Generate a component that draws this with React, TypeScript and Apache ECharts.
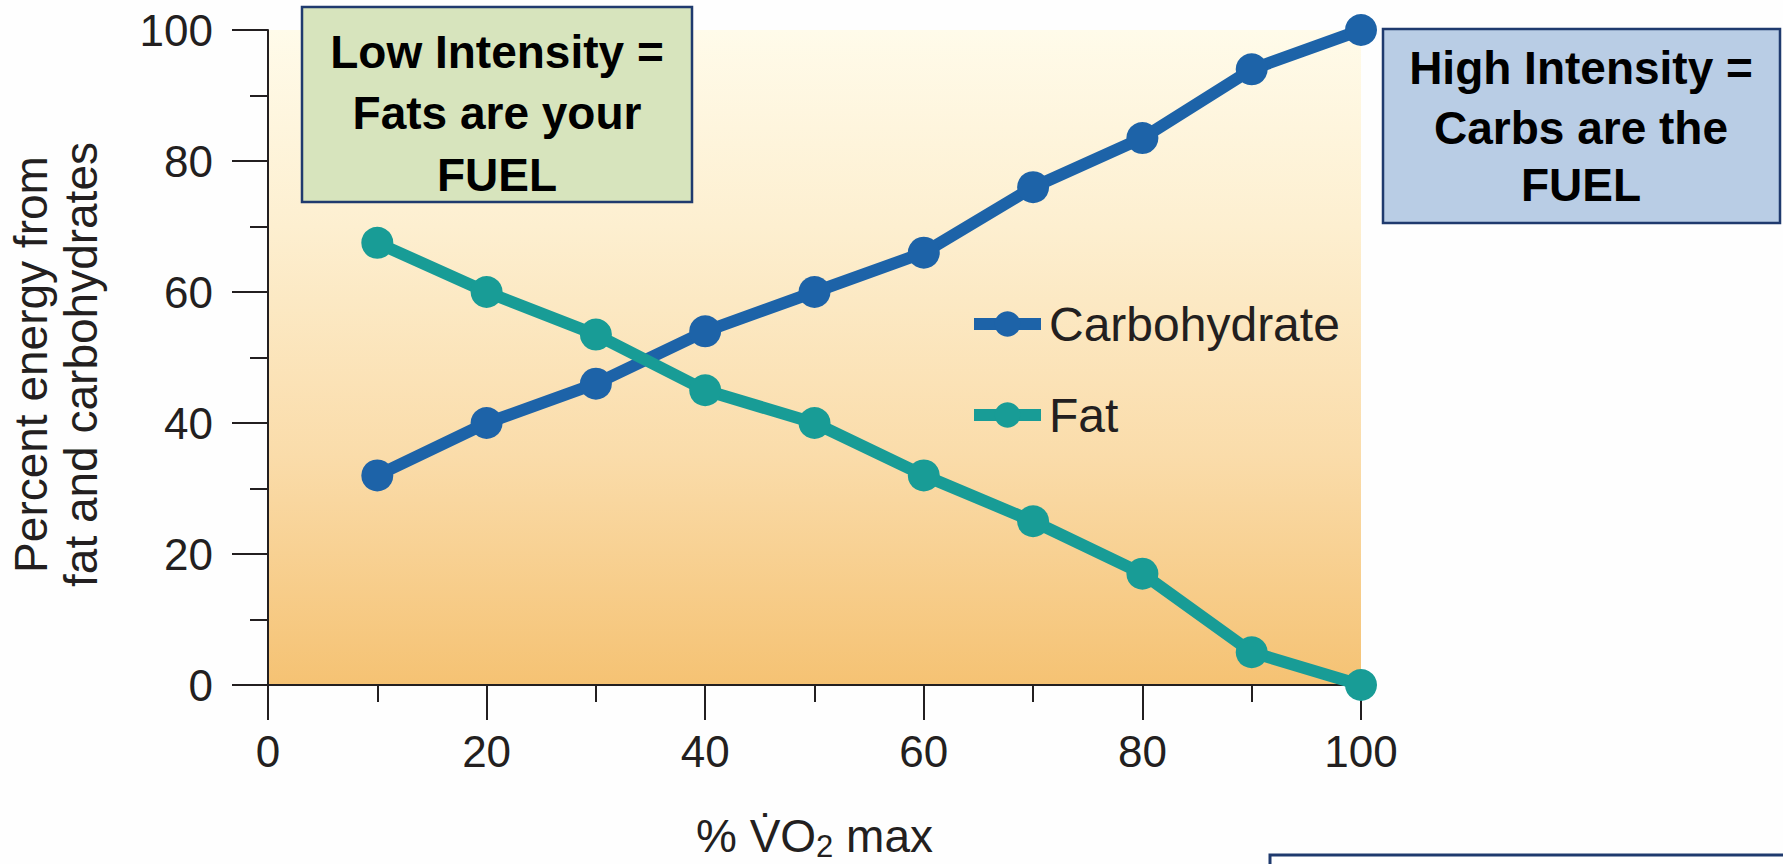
import React, { useEffect, useRef } from "react";
import * as echarts from "echarts";

const vo2Levels = [10, 20, 30, 40, 50, 60, 70, 80, 90, 100];
const carbohydrateValues = [32, 40, 46, 54, 60, 66, 76, 83.5, 94, 100];
const fatValues = [67.5, 60, 53.5, 45, 40, 32, 25, 17, 5, 0];
const seriesNames = ["Carbohydrate", "Fat"];
const lowBoxLines = ["Low Intensity =", "Fats are your", "FUEL"];
const highBoxLines = ["High Intensity =", "Carbs are the", "FUEL"];

const FONT = '"Liberation Sans", Arial, Helvetica, sans-serif';
const INK = "#231f20";

export default function App() {
  const ref = useRef<HTMLDivElement>(null);
  useEffect(() => {
    if (!ref.current) return;
    const chart = echarts.init(ref.current, null, { renderer: "svg" });
    const carbData = vo2Levels.map((x, i) => [x, carbohydrateValues[i]]);
    const fatData = vo2Levels.map((x, i) => [x, fatValues[i]]);

    const boxText = (lines: string[], cx: number, ys: number[]) =>
      lines.map((t, i) => ({
        type: "text",
        z: 101,
        x: cx,
        y: ys[i],
        style: {
          text: t,
          font: `bold 46px ${FONT}`,
          fill: "#000",
          textAlign: "center",
          textVerticalAlign: "middle",
          align: "center",
          verticalAlign: "middle",
        },
      }));

    const option: any = {
      animation: false,
      backgroundColor: "#fefefe",
      grid: {
        left: 268,
        top: 30,
        width: 1093,
        height: 655,
        outerBoundsMode: "none",
        containLabel: false,
        show: true,
        borderWidth: 0,
        backgroundColor: {
          type: "linear",
          x: 0,
          y: 0,
          x2: 0,
          y2: 1,
          colorStops: [
            { offset: 0, color: "#fffbea" },
            { offset: 0.3, color: "#fdefd0" },
            { offset: 0.65, color: "#fadcaa" },
            { offset: 1, color: "#f5c273" },
          ],
        },
      },
      legend: {
        orient: "vertical",
        left: 968,
        top: 300,
        padding: 0,
        itemWidth: 67,
        itemHeight: 32,
        itemGap: 43,
        lineStyle: { width: 12 },
        textStyle: {
          fontSize: 48,
          lineHeight: 48,
          color: INK,
          fontFamily: FONT,
          padding: [0, 0, 0, 3],
        },
        data: seriesNames,
      },
      xAxis: {
        type: "value",
        min: 0,
        max: 100,
        interval: 20,
        name: "% V\u0307O{sub|2} max",
        nameLocation: "middle",
        nameGap: 128,
        nameTextStyle: {
          fontSize: 46,
          lineHeight: 46,
          color: INK,
          fontFamily: FONT,
          rich: {
            sub: { fontSize: 31, lineHeight: 31, color: INK, fontFamily: FONT, padding: [20, 0, 0, 0] },
          },
        },
        axisLine: { show: true, lineStyle: { color: INK, width: 2 } },
        axisTick: { show: true, length: 35, lineStyle: { color: INK, width: 2 } },
        minorTick: { show: true, splitNumber: 2, length: 17, lineStyle: { color: INK, width: 2 } },
        splitLine: { show: false },
        axisLabel: { fontSize: 44, color: INK, fontFamily: FONT, margin: 44 },
      },
      yAxis: {
        type: "value",
        min: 0,
        max: 100,
        interval: 20,
        name: "Percent energy from\nfat and carbohydrates",
        nameLocation: "middle",
        nameRotate: 90,
        nameGap: 162,
        nameTextStyle: {
          fontSize: 46,
          lineHeight: 50,
          color: INK,
          fontFamily: FONT,
          padding: [0, 14, 0, 0],
        },
        axisLine: { show: true, lineStyle: { color: INK, width: 2 } },
        axisTick: { show: true, length: 36, lineStyle: { color: INK, width: 2 } },
        minorTick: { show: true, splitNumber: 2, length: 18, lineStyle: { color: INK, width: 2 } },
        splitLine: { show: false },
        axisLabel: { fontSize: 44, color: INK, fontFamily: FONT, margin: 55 },
      },
      series: [
        {
          name: seriesNames[0],
          type: "line",
          data: carbData,
          clip: false,
          symbol: "circle",
          symbolSize: 32,
          z: 3,
          lineStyle: { width: 12, color: "#1d63a8" },
          itemStyle: { color: "#1d63a8" },
        },
        {
          name: seriesNames[1],
          type: "line",
          data: fatData,
          clip: false,
          symbol: "circle",
          symbolSize: 32,
          z: 4,
          lineStyle: { width: 12, color: "#189c96" },
          itemStyle: { color: "#189c96" },
        },
      ],
      graphic: [
        {
          type: "rect",
          z: 100,
          shape: { x: 302, y: 7, width: 390, height: 195 },
          style: { fill: "#d7e4bd", stroke: "#1f3a6e", lineWidth: 2.5 },
        },
        ...boxText(lowBoxLines, 497, [52, 113, 175]),
        {
          type: "rect",
          z: 100,
          shape: { x: 1383, y: 29, width: 397, height: 194 },
          style: { fill: "#b9cde5", stroke: "#1f3a6e", lineWidth: 2.5 },
        },
        ...boxText(highBoxLines, 1581, [68, 128, 185]),
        {
          type: "rect",
          z: 100,
          shape: { x: 1270, y: 855, width: 530, height: 40 },
          style: { fill: "#ffffff", stroke: "#1f3a6e", lineWidth: 3 },
        },
      ],
    };
    chart.setOption(option);
    return () => chart.dispose();
  }, []);
  return (
    <div
      ref={ref}
      style={{ position: "fixed", left: 0, top: 0, width: 1783, height: 864 }}
    />
  );
}
